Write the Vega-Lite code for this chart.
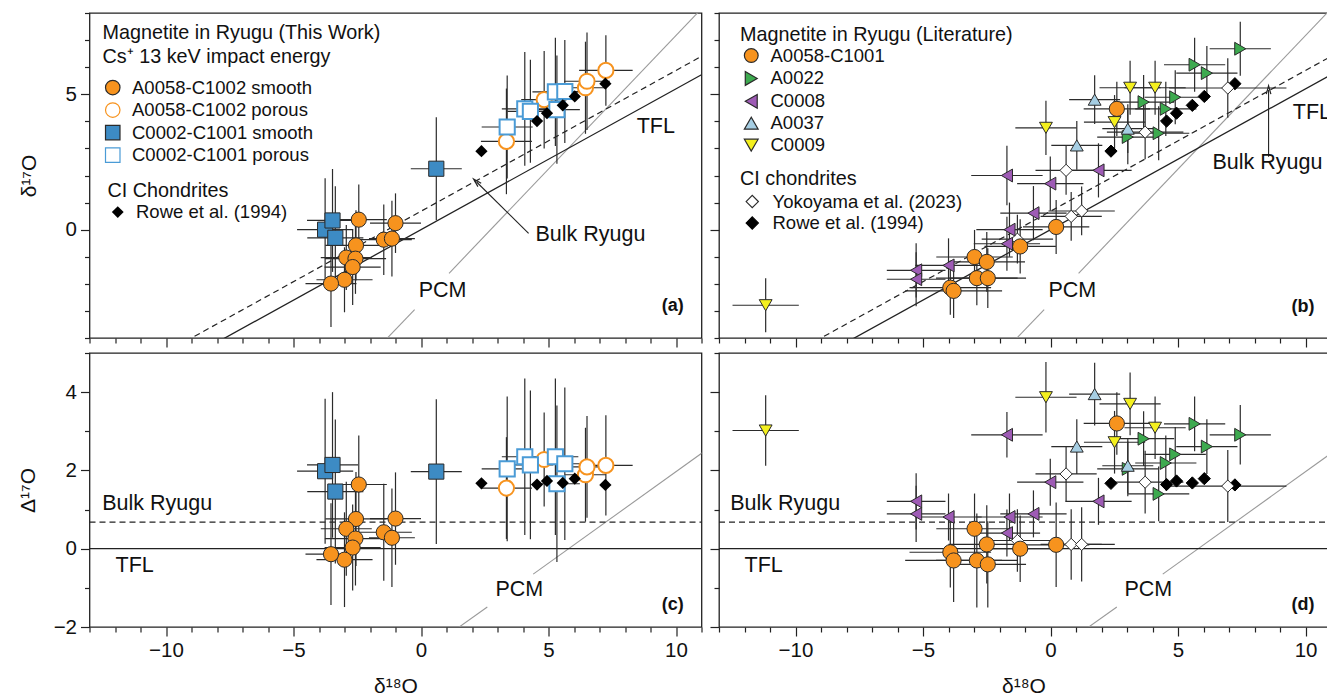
{
"$schema": "https://vega.github.io/schema/vega-lite/v6.json",
"padding": {"left": 16.5, "top": 2, "right": 0, "bottom": 0},
"config": {
  "font": "Liberation Sans",
  "view": {"stroke": "#222", "strokeWidth": 1.3},
  "axis": {"labelFontSize": 20.5, "labelColor": "#111", "titleFontSize": 21, "titleColor": "#111", "titleFontWeight": "normal", "tickColor": "#222", "tickWidth": 1.2, "domain": false, "grid": false, "labelFlush": false, "labelOverlap": false, "labelPadding": 4},
  "legend": {"titleFontWeight": "normal", "titleFontSize": 19.8, "labelFontSize": 18.5, "titleColor": "#111", "labelColor": "#111", "padding": 0, "symbolStrokeWidth": 1.2, "titleLimit": 500, "labelLimit": 500}
},
"datasets": {
  "work": [
    {"s":"A0058-C1002 smooth","d18":-2.44,"d17":0.37,"D17":1.64,"ex":1.1,"ey":1.3,"eD":1.25},
    {"s":"A0058-C1002 smooth","d18":-1.0,"d17":0.24,"D17":0.77,"ex":1.0,"ey":1.1,"eD":1.18},
    {"s":"A0058-C1002 smooth","d18":-1.46,"d17":-0.37,"D17":0.42,"ex":1.1,"ey":1.3,"eD":1.24},
    {"s":"A0058-C1002 smooth","d18":-1.14,"d17":-0.33,"D17":0.28,"ex":0.9,"ey":1.4,"eD":1.26},
    {"s":"A0058-C1002 smooth","d18":-2.55,"d17":-0.58,"D17":0.76,"ex":1.2,"ey":1.3,"eD":1.2},
    {"s":"A0058-C1002 smooth","d18":-2.93,"d17":-1.03,"D17":0.51,"ex":1.0,"ey":1.2,"eD":1.2},
    {"s":"A0058-C1002 smooth","d18":-2.57,"d17":-1.07,"D17":0.26,"ex":1.2,"ey":1.3,"eD":1.2},
    {"s":"A0058-C1002 smooth","d18":-2.68,"d17":-1.38,"D17":0.03,"ex":1.1,"ey":1.4,"eD":1.1},
    {"s":"A0058-C1002 smooth","d18":-3.0,"d17":-1.85,"D17":-0.28,"ex":1.1,"ey":1.2,"eD":1.21},
    {"s":"A0058-C1002 smooth","d18":-3.53,"d17":-1.99,"D17":-0.14,"ex":1.0,"ey":1.6,"eD":1.3},
    {"s":"A0058-C1002 porous","d18":3.35,"d17":3.26,"D17":1.55,"ex":1.0,"ey":1.95,"eD":1.3},
    {"s":"A0058-C1002 porous","d18":4.83,"d17":4.8,"D17":2.28,"ex":0.9,"ey":1.8,"eD":1.2},
    {"s":"A0058-C1002 porous","d18":6.45,"d17":5.24,"D17":1.89,"ex":0.8,"ey":1.7,"eD":1.2},
    {"s":"A0058-C1002 porous","d18":6.51,"d17":5.48,"D17":2.09,"ex":0.9,"ey":1.8,"eD":1.3},
    {"s":"A0058-C1002 porous","d18":7.25,"d17":5.88,"D17":2.13,"ex":1.05,"ey":1.3,"eD":1.28},
    {"s":"C0002-C1001 smooth","d18":-3.76,"d17":0.0,"D17":1.98,"ex":1.1,"ey":1.9,"eD":1.85},
    {"s":"C0002-C1001 smooth","d18":-3.47,"d17":0.34,"D17":2.14,"ex":1.0,"ey":1.9,"eD":1.86},
    {"s":"C0002-C1001 smooth","d18":-3.36,"d17":-0.3,"D17":1.46,"ex":1.1,"ey":1.9,"eD":1.84},
    {"s":"C0002-C1001 smooth","d18":0.6,"d17":2.25,"D17":1.97,"ex":1.0,"ey":1.9,"eD":1.85},
    {"s":"C0002-C1001 porous","d18":3.38,"d17":3.79,"D17":2.04,"ex":1.0,"ey":1.9,"eD":1.85},
    {"s":"C0002-C1001 porous","d18":4.07,"d17":4.46,"D17":2.35,"ex":0.9,"ey":2.1,"eD":2.0},
    {"s":"C0002-C1001 porous","d18":4.29,"d17":4.37,"D17":2.14,"ex":0.9,"ey":1.9,"eD":1.9},
    {"s":"C0002-C1001 porous","d18":5.27,"d17":5.09,"D17":2.35,"ex":0.9,"ey":2.0,"eD":2.0},
    {"s":"C0002-C1001 porous","d18":5.64,"d17":5.1,"D17":2.17,"ex":0.9,"ey":1.9,"eD":1.95},
    {"s":"C0002-C1001 porous","d18":5.33,"d17":4.43,"D17":1.66,"ex":0.9,"ey":2.0,"eD":2.0}
  ],
  "ci": [
    {"src":"Rowe et al. (1994)","d18":2.37,"d17":2.9,"D17":1.67},
    {"src":"Rowe et al. (1994)","d18":4.55,"d17":4.01,"D17":1.64},
    {"src":"Rowe et al. (1994)","d18":4.94,"d17":4.3,"D17":1.73},
    {"src":"Rowe et al. (1994)","d18":5.56,"d17":4.59,"D17":1.68},
    {"src":"Rowe et al. (1994)","d18":6.03,"d17":4.92,"D17":1.79},
    {"src":"Rowe et al. (1994)","d18":7.23,"d17":5.39,"D17":1.63},
    {"src":"Yokoyama et al. (2023)","d18":0.61,"d17":2.19,"D17":1.91,"ex":1.2,"ey":0.9,"eD":0.7},
    {"src":"Yokoyama et al. (2023)","d18":0.81,"d17":0.49,"D17":0.11,"ex":1.2,"ey":0.9,"eD":0.9},
    {"src":"Yokoyama et al. (2023)","d18":1.22,"d17":0.69,"D17":0.11,"ex":1.3,"ey":0.9,"eD":0.95},
    {"src":"Yokoyama et al. (2023)","d18":-1.3,"d17":-0.35,"D17":0.21,"ex":1.4,"ey":0.9,"eD":0.8},
    {"src":"Yokoyama et al. (2023)","d18":3.71,"d17":3.6,"D17":1.7,"ex":1.5,"ey":1.0,"eD":0.8},
    {"src":"Yokoyama et al. (2023)","d18":6.95,"d17":5.23,"D17":1.6,"ex":2.3,"ey":1.1,"eD":0.92}
  ],
  "lit": [
    {"s":"A0058-C1001","d18":0.22,"d17":0.1,"D17":0.1,"ex":1.3,"ey":1.0,"eD":1.08},
    {"s":"A0058-C1001","d18":-1.19,"d17":-0.62,"D17":0.0,"ex":1.4,"ey":1.0,"eD":0.85},
    {"s":"A0058-C1001","d18":-2.98,"d17":-1.01,"D17":0.51,"ex":1.5,"ey":1.0,"eD":0.9},
    {"s":"A0058-C1001","d18":-2.5,"d17":-1.19,"D17":0.11,"ex":1.5,"ey":1.1,"eD":1.0},
    {"s":"A0058-C1001","d18":-2.89,"d17":-1.79,"D17":-0.3,"ex":1.6,"ey":1.0,"eD":1.2},
    {"s":"A0058-C1001","d18":-2.46,"d17":-1.79,"D17":-0.4,"ex":1.5,"ey":1.1,"eD":1.1},
    {"s":"A0058-C1001","d18":-3.93,"d17":-2.14,"D17":-0.09,"ex":1.6,"ey":1.0,"eD":0.9},
    {"s":"A0058-C1001","d18":-3.8,"d17":-2.26,"D17":-0.3,"ex":1.9,"ey":1.0,"eD":1.06},
    {"s":"A0058-C1001","d18":2.6,"d17":4.46,"D17":3.2,"ex":1.3,"ey":1.0,"eD":0.8},
    {"s":"A0022","d18":7.44,"d17":6.68,"D17":2.91,"ex":1.2,"ey":1.0,"eD":0.76},
    {"s":"A0022","d18":5.65,"d17":6.09,"D17":3.19,"ex":1.2,"ey":1.0,"eD":0.7},
    {"s":"A0022","d18":6.13,"d17":5.78,"D17":2.61,"ex":1.2,"ey":1.0,"eD":0.7},
    {"s":"A0022","d18":4.89,"d17":4.89,"D17":2.41,"ex":1.2,"ey":1.0,"eD":0.7},
    {"s":"A0022","d18":3.65,"d17":4.71,"D17":2.81,"ex":1.2,"ey":1.0,"eD":0.7},
    {"s":"A0022","d18":4.52,"d17":4.46,"D17":2.19,"ex":1.2,"ey":1.0,"eD":0.7},
    {"s":"A0022","d18":3.03,"d17":3.42,"D17":2.04,"ex":1.2,"ey":1.0,"eD":0.7},
    {"s":"A0022","d18":4.24,"d17":3.56,"D17":1.4,"ex":1.2,"ey":1.0,"eD":0.7},
    {"s":"C0008","d18":-1.71,"d17":2.0,"D17":2.91,"ex":1.4,"ey":1.1,"eD":0.58},
    {"s":"C0008","d18":-0.01,"d17":1.7,"D17":1.7,"ex":1.3,"ey":1.0,"eD":0.6},
    {"s":"C0008","d18":1.88,"d17":2.19,"D17":1.21,"ex":1.3,"ey":1.0,"eD":0.6},
    {"s":"C0008","d18":-0.67,"d17":0.61,"D17":0.89,"ex":1.3,"ey":1.0,"eD":0.6},
    {"s":"C0008","d18":-1.61,"d17":0.0,"D17":0.81,"ex":1.3,"ey":1.0,"eD":0.6},
    {"s":"C0008","d18":-1.71,"d17":-0.52,"D17":0.4,"ex":1.3,"ey":1.0,"eD":0.6},
    {"s":"C0008","d18":-4.0,"d17":-1.32,"D17":0.81,"ex":1.3,"ey":1.0,"eD":0.6},
    {"s":"C0008","d18":-5.27,"d17":-1.5,"D17":1.21,"ex":1.15,"ey":1.0,"eD":0.72},
    {"s":"C0008","d18":-5.27,"d17":-1.83,"D17":0.89,"ex":1.15,"ey":1.0,"eD":0.72},
    {"s":"A0037","d18":1.73,"d17":4.8,"D17":3.95,"ex":1.0,"ey":0.9,"eD":0.8},
    {"s":"A0037","d18":3.03,"d17":3.73,"D17":2.12,"ex":1.0,"ey":0.9,"eD":0.7},
    {"s":"A0037","d18":1.03,"d17":3.11,"D17":2.61,"ex":1.0,"ey":0.9,"eD":0.7},
    {"s":"C0009","d18":3.12,"d17":5.24,"D17":3.7,"ex":1.2,"ey":1.0,"eD":0.8},
    {"s":"C0009","d18":4.1,"d17":5.24,"D17":3.09,"ex":1.2,"ey":1.0,"eD":0.8},
    {"s":"C0009","d18":2.51,"d17":3.97,"D17":2.72,"ex":1.2,"ey":1.0,"eD":0.8},
    {"s":"C0009","d18":-0.18,"d17":3.76,"D17":3.87,"ex":1.2,"ey":1.0,"eD":0.9},
    {"s":"C0009","d18":-11.17,"d17":-2.79,"D17":3.02,"ex":1.3,"ey":1.0,"eD":0.9}
  ],
  "refTop": [
    {"line":"TFL","seg":"t","d18":-13,"d17":-6.76},{"line":"TFL","seg":"t","d18":11,"d17":5.72},
    {"line":"Bulk","seg":"b","d18":-13,"d17":-6.08},{"line":"Bulk","seg":"b","d18":11,"d17":6.4},
    {"line":"PCM","seg":"p1","d18":-2,"d17":-4.67},{"line":"PCM","seg":"p1","d18":-0.25,"d17":-2.95},
    {"line":"PCM","seg":"p2","d18":1.1,"d17":-1.61},{"line":"PCM","seg":"p2","d18":11.5,"d17":8.65}
  ],
  "refBot": [
    {"line":"TFL","seg":"t","d18":-13,"D17":0},{"line":"TFL","seg":"t","d18":11,"D17":0},
    {"line":"Bulk","seg":"b","d18":-13,"D17":0.68},{"line":"Bulk","seg":"b","d18":11,"D17":0.68},
    {"line":"PCM","seg":"p1","d18":1.0,"D17":-2.23},{"line":"PCM","seg":"p1","d18":2.6,"D17":-1.49},
    {"line":"PCM","seg":"p2","d18":4.4,"D17":-0.65},{"line":"PCM","seg":"p2","d18":11.5,"D17":2.67}
  ],
  "notes": [
    {"panel":"a","kind":"lab","text":"TFL","d18":8.46,"d17":3.8},
    {"panel":"a","kind":"lab","text":"Bulk Ryugu","d18":4.49,"d17":-0.2},
    {"panel":"a","kind":"lab","text":"PCM","d18":-0.09,"d17":-2.25},
    {"panel":"a","kind":"tag","text":"(a)","d18":10.3,"d17":-2.8},
    {"panel":"b","kind":"lab","text":"TFL","d18":9.5,"d17":4.3},
    {"panel":"b","kind":"lab","text":"Bulk Ryugu","d18":6.35,"d17":2.45},
    {"panel":"b","kind":"lab","text":"PCM","d18":-0.08,"d17":-2.25},
    {"panel":"b","kind":"tag","text":"(b)","d18":10.35,"d17":-2.85},
    {"panel":"c","kind":"lab","text":"Bulk Ryugu","d18":-12.5,"D17":1.15},
    {"panel":"c","kind":"lab","text":"TFL","d18":-11.98,"D17":-0.43},
    {"panel":"c","kind":"lab","text":"PCM","d18":2.92,"D17":-1.06},
    {"panel":"c","kind":"tag","text":"(c)","d18":10.3,"D17":-1.45},
    {"panel":"d","kind":"lab","text":"Bulk Ryugu","d18":-12.56,"D17":1.15},
    {"panel":"d","kind":"lab","text":"TFL","d18":-12.0,"D17":-0.43},
    {"panel":"d","kind":"lab","text":"PCM","d18":2.9,"D17":-1.06},
    {"panel":"d","kind":"tag","text":"(d)","d18":10.35,"D17":-1.45}
  ],
  "arrows": [
    {"panel":"a","d18":4.22,"d17":-0.14,"d18h":2.18,"d17h":1.76},
    {"panel":"b","d18":8.55,"d17":2.69,"d18h":8.55,"d17h":5.16}
  ]
},
"columns": 2,
"spacing": {"row": 15, "column": 17.5},
"bounds": "flush",
"concat": [
  {
    "width": 612, "height": 325,
    "encoding": {
      "x": {"field": "d18", "type": "quantitative", "scale": {"domain": [-13, 11], "nice": false, "zero": false},
            "axis": {"values": [-13,-12,-11,-10,-9,-8,-7,-6,-5,-4,-3,-2,-1,0,1,2,3,4,5,6,7,8,9,10,11], "labels": false, "title": null, "tickSize": {"condition": {"test": "datum.value % 5 === 0", "value": 9}, "value": 5}}},
      "y": {"field": "d17", "type": "quantitative", "scale": {"domain": [-4, 8], "nice": false, "zero": false},
            "axis": {"values": [-4,-3,-2,-1,0,1,2,3,4,5,6,7,8], "labelExpr": "datum.value % 5 === 0 ? datum.label : ''", "title": "δ¹⁷O", "titlePadding": 26, "tickSize": {"condition": {"test": "datum.value % 5 === 0", "value": 9}, "value": 5}}}
    },
    "layer": [
      {"data": {"name": "refTop"}, "transform": [{"filter": "datum.line === 'PCM'"}], "mark": {"type": "line", "clip": true, "color": "#9a9a9a", "strokeWidth": 1.1}, "encoding": {"detail": {"field": "seg"}}},
      {"data": {"name": "refTop"}, "transform": [{"filter": "datum.line === 'TFL'"}], "mark": {"type": "line", "clip": true, "color": "#222", "strokeWidth": 1.3}, "encoding": {"detail": {"field": "seg"}}},
      {"data": {"name": "refTop"}, "transform": [{"filter": "datum.line === 'Bulk'"}], "mark": {"type": "line", "clip": true, "color": "#222", "strokeWidth": 1.2, "strokeDash": [6, 4]}, "encoding": {"detail": {"field": "seg"}}},
      {"data": {"name": "arrows"}, "transform": [{"filter": "datum.panel === 'a'"}], "mark": {"type": "rule", "color": "#222", "strokeWidth": 1.1}, "encoding": {"x2": {"field": "d18h"}, "y2": {"field": "d17h"}}},
      {"data": {"name": "arrows"}, "transform": [{"filter": "datum.panel === 'a'"}], "mark": {"type": "point", "shape": "M-0.55,1L0,-1L0.55,1", "filled": false, "angle": -45, "size": 70, "stroke": "#222", "strokeWidth": 1.2, "opacity": 1}, "encoding": {"x": {"field": "d18h", "type": "quantitative"}, "y": {"field": "d17h", "type": "quantitative"}}},
      {"data": {"name": "work"}, "mark": {"type": "errorbar", "color": "#2b2b2b", "thickness": 1.2}, "encoding": {"xError": {"field": "ex"}}},
      {"data": {"name": "work"}, "mark": {"type": "errorbar", "color": "#2b2b2b", "thickness": 1.2}, "encoding": {"yError": {"field": "ey"}}},
      {"data": {"name": "work"}, "mark": {"type": "point", "filled": true, "opacity": 1, "size": 230},
       "encoding": {
         "shape": {"field": "s", "type": "nominal", "scale": {"domain": ["A0058-C1002 smooth","A0058-C1002 porous","C0002-C1001 smooth","C0002-C1001 porous"], "range": ["circle","circle","square","square"]},
                   "legend": {"orient": "none", "legendX": 13, "legendY": 10, "title": ["Magnetite in Ryugu (This Work)", "Cs⁺ 13 keV impact energy"], "titleLineHeight": 23.5, "titlePadding": 12, "symbolSize": 210, "symbolOffset": 1, "labelOffset": 10, "rowPadding": 2.5}},
         "fill": {"field": "s", "type": "nominal", "scale": {"domain": ["A0058-C1002 smooth","A0058-C1002 porous","C0002-C1001 smooth","C0002-C1001 porous"], "range": ["#F7931E","#ffffff","#3D8BC4","#ffffff"]},
                  "legend": {"orient": "none", "legendX": 13, "legendY": 10, "title": ["Magnetite in Ryugu (This Work)", "Cs⁺ 13 keV impact energy"], "titleLineHeight": 23.5, "titlePadding": 12, "symbolSize": 210, "symbolOffset": 1, "labelOffset": 10, "rowPadding": 2.5}},
         "stroke": {"field": "s", "type": "nominal", "scale": {"domain": ["A0058-C1002 smooth","A0058-C1002 porous","C0002-C1001 smooth","C0002-C1001 porous"], "range": ["#2a2a2a","#F7931E","#2a2a2a","#4A9BD6"]},
                  "legend": {"orient": "none", "legendX": 13, "legendY": 10, "title": ["Magnetite in Ryugu (This Work)", "Cs⁺ 13 keV impact energy"], "titleLineHeight": 23.5, "titlePadding": 12, "symbolSize": 210, "symbolOffset": 1, "labelOffset": 10, "rowPadding": 2.5}},
         "strokeWidth": {"condition": {"test": "indexof(datum.s, 'porous') >= 0", "value": 2}, "value": 1}
       }},
      {"data": {"name": "ci"}, "transform": [{"filter": "datum.src === 'Rowe et al. (1994)'"}], "mark": {"type": "point", "filled": true, "opacity": 1, "size": 150, "shape": "diamond"},
       "encoding": {"fill": {"field": "src", "type": "nominal", "scale": {"domain": ["Rowe et al. (1994)"], "range": ["#000000"]},
                             "legend": {"orient": "none", "legendX": 18, "legendY": 168, "title": "CI Chondrites", "symbolType": "diamond", "symbolSize": 140, "symbolOffset": 1, "labelOffset": 9, "titlePadding": 2}}}},
      {"data": {"name": "notes"}, "transform": [{"filter": "datum.panel === 'a' && datum.kind === 'lab'"}], "mark": {"type": "text", "align": "left", "baseline": "middle", "fontSize": 21.5, "color": "#111", "clip": true}, "encoding": {"text": {"field": "text"}}},
      {"data": {"name": "notes"}, "transform": [{"filter": "datum.panel === 'a' && datum.kind === 'tag'"}], "mark": {"type": "text", "align": "right", "baseline": "middle", "fontSize": 18, "fontWeight": "bold", "color": "#111"}, "encoding": {"text": {"field": "text"}}}
    ],
    "resolve": {"scale": {"shape": "independent", "fill": "independent", "stroke": "independent"}}
  },
  {
    "width": 609, "height": 325,
    "encoding": {
      "x": {"field": "d18", "type": "quantitative", "scale": {"domain": [-13, 10.88], "nice": false, "zero": false},
            "axis": {"values": [-13,-12,-11,-10,-9,-8,-7,-6,-5,-4,-3,-2,-1,0,1,2,3,4,5,6,7,8,9,10], "labels": false, "title": null, "tickSize": {"condition": {"test": "datum.value % 5 === 0", "value": 9}, "value": 5}}},
      "y": {"field": "d17", "type": "quantitative", "scale": {"domain": [-4, 8], "nice": false, "zero": false},
            "axis": {"values": [-4,-3,-2,-1,0,1,2,3,4,5,6,7,8], "labels": false, "title": null, "tickSize": {"condition": {"test": "datum.value % 5 === 0", "value": 9}, "value": 5}}}
    },
    "layer": [
      {"data": {"name": "refTop"}, "transform": [{"filter": "datum.line === 'PCM'"}], "mark": {"type": "line", "clip": true, "color": "#9a9a9a", "strokeWidth": 1.1}, "encoding": {"detail": {"field": "seg"}}},
      {"data": {"name": "refTop"}, "transform": [{"filter": "datum.line === 'TFL'"}], "mark": {"type": "line", "clip": true, "color": "#222", "strokeWidth": 1.3}, "encoding": {"detail": {"field": "seg"}}},
      {"data": {"name": "refTop"}, "transform": [{"filter": "datum.line === 'Bulk'"}], "mark": {"type": "line", "clip": true, "color": "#222", "strokeWidth": 1.2, "strokeDash": [6, 4]}, "encoding": {"detail": {"field": "seg"}}},
      {"data": {"name": "arrows"}, "transform": [{"filter": "datum.panel === 'b'"}], "mark": {"type": "rule", "color": "#222", "strokeWidth": 1.1}, "encoding": {"x2": {"field": "d18h"}, "y2": {"field": "d17h"}}},
      {"data": {"name": "arrows"}, "transform": [{"filter": "datum.panel === 'b'"}], "mark": {"type": "point", "shape": "M-0.55,1L0,-1L0.55,1", "filled": false, "angle": 0, "size": 70, "stroke": "#222", "strokeWidth": 1.2, "opacity": 1}, "encoding": {"x": {"field": "d18h", "type": "quantitative"}, "y": {"field": "d17h", "type": "quantitative"}}},
      {"data": {"name": "lit"}, "mark": {"type": "errorbar", "color": "#2b2b2b", "thickness": 1.2}, "encoding": {"xError": {"field": "ex"}}},
      {"data": {"name": "lit"}, "mark": {"type": "errorbar", "color": "#2b2b2b", "thickness": 1.2}, "encoding": {"yError": {"field": "ey"}}},
      {"data": {"name": "ci"}, "transform": [{"filter": "datum.src === 'Yokoyama et al. (2023)'"}], "mark": {"type": "errorbar", "color": "#2b2b2b", "thickness": 1.2}, "encoding": {"xError": {"field": "ex"}}},
      {"data": {"name": "ci"}, "transform": [{"filter": "datum.src === 'Yokoyama et al. (2023)'"}], "mark": {"type": "errorbar", "color": "#2b2b2b", "thickness": 1.2}, "encoding": {"yError": {"field": "ey"}}},
      {"data": {"name": "ci"}, "mark": {"type": "point", "filled": true, "opacity": 1, "size": 150, "shape": "diamond", "strokeWidth": 1},
       "encoding": {
         "fill": {"field": "src", "type": "nominal", "scale": {"domain": ["Yokoyama et al. (2023)", "Rowe et al. (1994)"], "range": ["#ffffff", "#000000"]},
                  "legend": {"orient": "none", "legendX": 21, "legendY": 155.5, "title": "CI chondrites", "symbolType": "diamond", "symbolSize": 150, "symbolOffset": 3, "labelOffset": 11, "titlePadding": 4, "rowPadding": 2.5}},
         "stroke": {"field": "src", "type": "nominal", "scale": {"domain": ["Yokoyama et al. (2023)", "Rowe et al. (1994)"], "range": ["#2a2a2a", "#000000"]},
                  "legend": {"orient": "none", "legendX": 21, "legendY": 155.5, "title": "CI chondrites", "symbolType": "diamond", "symbolSize": 150, "symbolOffset": 3, "labelOffset": 11, "titlePadding": 4, "rowPadding": 2.5}}
       }},
      {"data": {"name": "lit"}, "mark": {"type": "point", "filled": true, "opacity": 1, "stroke": "#2a2a2a", "strokeWidth": 1},
       "encoding": {
         "shape": {"field": "s", "type": "nominal", "scale": {"domain": ["A0058-C1001","A0022","C0008","A0037","C0009"], "range": ["circle","triangle-right","triangle-left","triangle-up","triangle-down"]},
                   "legend": {"orient": "none", "legendX": 21, "legendY": 12, "title": "Magnetite in Ryugu (Literature)", "symbolSize": 190, "symbolOffset": 2, "labelOffset": 10, "titlePadding": 1.5, "rowPadding": 2.9}},
         "fill": {"field": "s", "type": "nominal", "scale": {"domain": ["A0058-C1001","A0022","C0008","A0037","C0009"], "range": ["#F7931E","#3DAA4F","#9E5BB5","#A6CEE3","#F4F01E"]},
                  "legend": {"orient": "none", "legendX": 21, "legendY": 12, "title": "Magnetite in Ryugu (Literature)", "symbolSize": 190, "symbolOffset": 2, "labelOffset": 10, "titlePadding": 1.5, "rowPadding": 2.9}},
         "size": {"condition": {"test": "datum.s === 'A0058-C1001'", "value": 230}, "value": 165}
       }},
      {"data": {"name": "notes"}, "transform": [{"filter": "datum.panel === 'b' && datum.kind === 'lab'"}], "mark": {"type": "text", "align": "left", "baseline": "middle", "fontSize": 21.5, "color": "#111", "clip": true}, "encoding": {"text": {"field": "text"}}},
      {"data": {"name": "notes"}, "transform": [{"filter": "datum.panel === 'b' && datum.kind === 'tag'"}], "mark": {"type": "text", "align": "right", "baseline": "middle", "fontSize": 18, "fontWeight": "bold", "color": "#111"}, "encoding": {"text": {"field": "text"}}}
    ],
    "resolve": {"scale": {"shape": "independent", "fill": "independent", "stroke": "independent"}}
  },
  {
    "width": 612, "height": 274,
    "encoding": {
      "x": {"field": "d18", "type": "quantitative", "scale": {"domain": [-13, 11], "nice": false, "zero": false},
            "axis": {"values": [-13,-12,-11,-10,-9,-8,-7,-6,-5,-4,-3,-2,-1,0,1,2,3,4,5,6,7,8,9,10,11], "labelExpr": "datum.value % 5 === 0 ? datum.label : ''", "title": "δ¹⁸O", "titleY": 59, "titleBaseline": "middle", "tickSize": {"condition": {"test": "datum.value % 5 === 0", "value": 9}, "value": 5}}},
      "y": {"field": "D17", "type": "quantitative", "scale": {"domain": [-2, 5], "nice": false, "zero": false},
            "axis": {"values": [-2,-1,0,1,2,3,4,5], "labelExpr": "datum.value % 2 === 0 ? datum.label : ''", "title": "Δ¹⁷O", "titlePadding": 14.5, "tickSize": {"condition": {"test": "datum.value % 2 === 0", "value": 9}, "value": 5}}}
    },
    "layer": [
      {"data": {"name": "refBot"}, "transform": [{"filter": "datum.line === 'PCM'"}], "mark": {"type": "line", "clip": true, "color": "#9a9a9a", "strokeWidth": 1.1}, "encoding": {"detail": {"field": "seg"}}},
      {"data": {"name": "refBot"}, "transform": [{"filter": "datum.line === 'TFL'"}], "mark": {"type": "line", "clip": true, "color": "#222", "strokeWidth": 1.3}, "encoding": {"detail": {"field": "seg"}}},
      {"data": {"name": "refBot"}, "transform": [{"filter": "datum.line === 'Bulk'"}], "mark": {"type": "line", "clip": true, "color": "#222", "strokeWidth": 1.2, "strokeDash": [6, 4]}, "encoding": {"detail": {"field": "seg"}}},
      {"data": {"name": "work"}, "mark": {"type": "errorbar", "color": "#2b2b2b", "thickness": 1.2}, "encoding": {"xError": {"field": "ex"}}},
      {"data": {"name": "work"}, "mark": {"type": "errorbar", "color": "#2b2b2b", "thickness": 1.2}, "encoding": {"yError": {"field": "eD"}}},
      {"data": {"name": "work"}, "mark": {"type": "point", "filled": true, "opacity": 1, "size": 230},
       "encoding": {
         "shape": {"field": "s", "type": "nominal", "scale": {"domain": ["A0058-C1002 smooth","A0058-C1002 porous","C0002-C1001 smooth","C0002-C1001 porous"], "range": ["circle","circle","square","square"]}, "legend": null},
         "fill": {"field": "s", "type": "nominal", "scale": {"domain": ["A0058-C1002 smooth","A0058-C1002 porous","C0002-C1001 smooth","C0002-C1001 porous"], "range": ["#F7931E","#ffffff","#3D8BC4","#ffffff"]}, "legend": null},
         "stroke": {"field": "s", "type": "nominal", "scale": {"domain": ["A0058-C1002 smooth","A0058-C1002 porous","C0002-C1001 smooth","C0002-C1001 porous"], "range": ["#2a2a2a","#F7931E","#2a2a2a","#4A9BD6"]}, "legend": null},
         "strokeWidth": {"condition": {"test": "indexof(datum.s, 'porous') >= 0", "value": 2}, "value": 1}
       }},
      {"data": {"name": "ci"}, "transform": [{"filter": "datum.src === 'Rowe et al. (1994)'"}], "mark": {"type": "point", "filled": true, "opacity": 1, "size": 150, "shape": "diamond", "color": "#000000"}},
      {"data": {"name": "notes"}, "transform": [{"filter": "datum.panel === 'c' && datum.kind === 'lab'"}], "mark": {"type": "text", "align": "left", "baseline": "middle", "fontSize": 21.5, "color": "#111", "clip": true}, "encoding": {"text": {"field": "text"}}},
      {"data": {"name": "notes"}, "transform": [{"filter": "datum.panel === 'c' && datum.kind === 'tag'"}], "mark": {"type": "text", "align": "right", "baseline": "middle", "fontSize": 18, "fontWeight": "bold", "color": "#111"}, "encoding": {"text": {"field": "text"}}}
    ]
  },
  {
    "width": 609, "height": 274,
    "encoding": {
      "x": {"field": "d18", "type": "quantitative", "scale": {"domain": [-13, 10.88], "nice": false, "zero": false},
            "axis": {"values": [-13,-12,-11,-10,-9,-8,-7,-6,-5,-4,-3,-2,-1,0,1,2,3,4,5,6,7,8,9,10], "labelExpr": "datum.value % 5 === 0 ? datum.label : ''", "title": "δ¹⁸O", "titleY": 59, "titleBaseline": "middle", "tickSize": {"condition": {"test": "datum.value % 5 === 0", "value": 9}, "value": 5}}},
      "y": {"field": "D17", "type": "quantitative", "scale": {"domain": [-2, 5], "nice": false, "zero": false},
            "axis": {"values": [-2,-1,0,1,2,3,4,5], "labels": false, "title": null, "tickSize": {"condition": {"test": "datum.value % 2 === 0", "value": 9}, "value": 5}}}
    },
    "layer": [
      {"data": {"name": "refBot"}, "transform": [{"filter": "datum.line === 'PCM'"}], "mark": {"type": "line", "clip": true, "color": "#9a9a9a", "strokeWidth": 1.1}, "encoding": {"detail": {"field": "seg"}}},
      {"data": {"name": "refBot"}, "transform": [{"filter": "datum.line === 'TFL'"}], "mark": {"type": "line", "clip": true, "color": "#222", "strokeWidth": 1.3}, "encoding": {"detail": {"field": "seg"}}},
      {"data": {"name": "refBot"}, "transform": [{"filter": "datum.line === 'Bulk'"}], "mark": {"type": "line", "clip": true, "color": "#222", "strokeWidth": 1.2, "strokeDash": [6, 4]}, "encoding": {"detail": {"field": "seg"}}},
      {"data": {"name": "lit"}, "mark": {"type": "errorbar", "color": "#2b2b2b", "thickness": 1.2}, "encoding": {"xError": {"field": "ex"}}},
      {"data": {"name": "lit"}, "mark": {"type": "errorbar", "color": "#2b2b2b", "thickness": 1.2}, "encoding": {"yError": {"field": "eD"}}},
      {"data": {"name": "ci"}, "transform": [{"filter": "datum.src === 'Yokoyama et al. (2023)'"}], "mark": {"type": "errorbar", "color": "#2b2b2b", "thickness": 1.2}, "encoding": {"xError": {"field": "ex"}}},
      {"data": {"name": "ci"}, "transform": [{"filter": "datum.src === 'Yokoyama et al. (2023)'"}], "mark": {"type": "errorbar", "color": "#2b2b2b", "thickness": 1.2}, "encoding": {"yError": {"field": "eD"}}},
      {"data": {"name": "ci"}, "mark": {"type": "point", "filled": true, "opacity": 1, "size": 150, "shape": "diamond", "strokeWidth": 1},
       "encoding": {
         "fill": {"field": "src", "type": "nominal", "scale": {"domain": ["Yokoyama et al. (2023)", "Rowe et al. (1994)"], "range": ["#ffffff", "#000000"]}, "legend": null},
         "stroke": {"field": "src", "type": "nominal", "scale": {"domain": ["Yokoyama et al. (2023)", "Rowe et al. (1994)"], "range": ["#2a2a2a", "#000000"]}, "legend": null}
       }},
      {"data": {"name": "lit"}, "mark": {"type": "point", "filled": true, "opacity": 1, "stroke": "#2a2a2a", "strokeWidth": 1},
       "encoding": {
         "shape": {"field": "s", "type": "nominal", "scale": {"domain": ["A0058-C1001","A0022","C0008","A0037","C0009"], "range": ["circle","triangle-right","triangle-left","triangle-up","triangle-down"]}, "legend": null},
         "fill": {"field": "s", "type": "nominal", "scale": {"domain": ["A0058-C1001","A0022","C0008","A0037","C0009"], "range": ["#F7931E","#3DAA4F","#9E5BB5","#A6CEE3","#F4F01E"]}, "legend": null},
         "size": {"condition": {"test": "datum.s === 'A0058-C1001'", "value": 230}, "value": 165}
       }},
      {"data": {"name": "notes"}, "transform": [{"filter": "datum.panel === 'd' && datum.kind === 'lab'"}], "mark": {"type": "text", "align": "left", "baseline": "middle", "fontSize": 21.5, "color": "#111", "clip": true}, "encoding": {"text": {"field": "text"}}},
      {"data": {"name": "notes"}, "transform": [{"filter": "datum.panel === 'd' && datum.kind === 'tag'"}], "mark": {"type": "text", "align": "right", "baseline": "middle", "fontSize": 18, "fontWeight": "bold", "color": "#111"}, "encoding": {"text": {"field": "text"}}}
    ],
    "resolve": {"scale": {"shape": "independent", "fill": "independent", "stroke": "independent"}}
  }
]
}
